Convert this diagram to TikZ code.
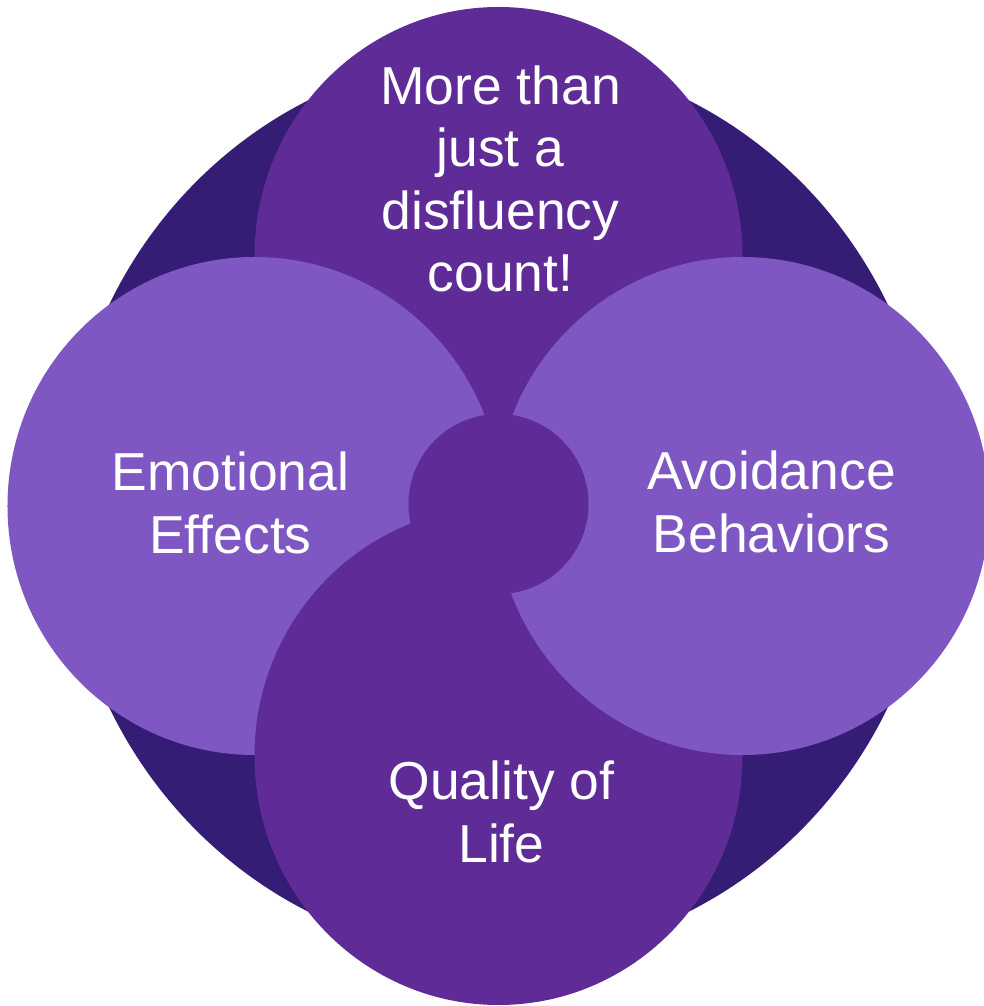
\documentclass[tikz,border=0pt]{standalone}
\usepackage{fontspec}
\setmainfont{Liberation Sans}
\definecolor{ringdark}{HTML}{351C75}
\definecolor{petalmid}{HTML}{5E2B97}
\definecolor{petallight}{HTML}{7E57C2}

\begin{document}
\begin{tikzpicture}[x=0.025cm,y=0.025cm,
    petaltext/.style={text=white,align=center,inner sep=0pt,
        font=\fontsize{38}{44.5}\selectfont}]
\def\offx{244}
\def\offy{250}
\def\sidery{249}
\def\siderx{247}
\def\tiprx{244}
\coordinate (Centre) at (0,0);
\coordinate (TopPosition) at (0,\offy);
\coordinate (BottomPosition) at (0,-\offy);
\coordinate (LeftPosition) at (-\offx,0);
\coordinate (RightPosition) at (\offx,0);
\coordinate (HubPosition) at (0,2);

\useasboundingbox (-498.5,-500) rectangle (485.5,506);

% dark ring behind, then the four petals in stacking order
\fill[ringdark] (Centre) ellipse [x radius=435, y radius=451];
\fill[petalmid] (TopPosition) ellipse [x radius=\tiprx, y radius=\sidery];
\fill[petallight] (LeftPosition) ellipse [x radius=\siderx, y radius=\sidery];
\fill[petalmid] (BottomPosition) ellipse [x radius=\tiprx, y radius=\sidery];
\fill[petallight] (RightPosition) ellipse [x radius=\siderx, y radius=\sidery];
\fill[petalmid] (HubPosition) circle [radius=90];

\node[petaltext] (Disfluency) at (2,327)
    {More than\\just a\\disfluency\\count!};
\node[petaltext] (Emotional) at (-268,3) {Emotional\\Effects};
\node[petaltext] (Avoidance) at (273,4) {Avoidance\\Behaviors};
\node[petaltext] (Quality) at (3,-306) {Quality of\\Life};
\end{tikzpicture}
\end{document}
